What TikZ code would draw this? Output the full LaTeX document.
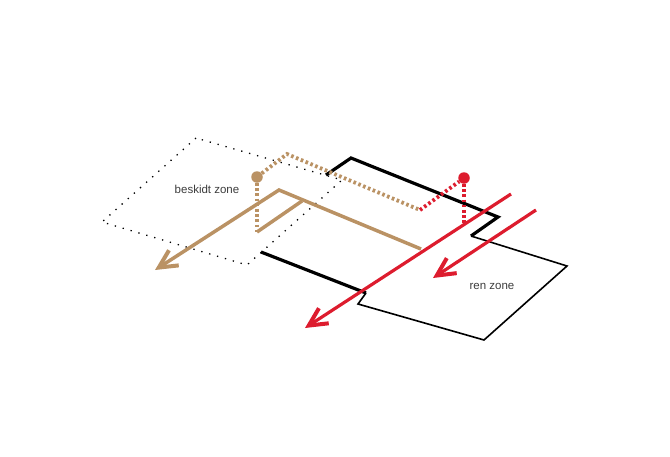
\documentclass[tikz,border=0pt]{standalone}
\usepackage{fontspec}
\setmainfont{Liberation Sans}
\usetikzlibrary{arrows.meta}
\definecolor{zonetan}{RGB}{186,146,100}
\definecolor{zonered}{RGB}{221,28,46}
\definecolor{labelgray}{RGB}{60,60,60}

\begin{document}
\begin{tikzpicture}[x=1pt, y=-1pt,
    wall/.style={black, line width=3.2pt, line join=miter},
    thinwall/.style={black, line width=1.6pt, line join=miter},
    outline/.style={black, line width=1.3pt, dash pattern=on 1.3pt off 6.9pt},
    tanpath/.style={zonetan, line width=3.5pt, line join=miter},
    redpath/.style={zonered, line width=3.2pt},
    tandots/.style={zonetan, line width=3.8pt, dash pattern=on 2.6pt off 2.6pt},
    reddots/.style={zonered, line width=3.8pt, dash pattern=on 2.6pt off 2.6pt},
    arr/.style={-{Straight Barb[length=18pt, width=18pt, line width=4pt]}},
    lab/.style={font=\fontsize{11.5}{13}\selectfont, text=labelgray, inner sep=0pt},
    dot/.style={circle, minimum size=11.5pt, inner sep=0pt}
]
    \useasboundingbox (0,0) rectangle (670,456);

    % Dirty zone outline
    \draw[outline] (196,138) -- (102,222) -- (247,265) -- (342,180) -- cycle;

    % Clean zone walls
    \draw[wall] (326,175) -- (351,158) -- (498,217) -- (471,236);
    \draw[thinwall] (471,236) -- (567,266) -- (484,340) -- (358,304) -- (366,293);
    \draw[wall] (366,293) -- (261,252);

    % Dots
    \node[dot, fill=zonetan] (tandot) at (257,177) {};
    \node[dot, fill=zonered] (reddot) at (464,178) {};
    \coordinate (tanfoot) at (257,232);
    \coordinate (redfoot) at (464,225);
    \coordinate (bend) at (420,210);

    % Tan route
    \draw[tanpath, arr] (421,249) -- (279,190) -- (155,270);
    \draw[tanpath] (302,201) -- (tanfoot);
    \draw[tandots] (tandot) -- (tanfoot);
    \draw[tandots] (tandot) -- (287,154) -- (bend);

    % Red route
    \draw[reddots] (bend) -- (reddot);
    \draw[reddots] (reddot) -- (redfoot);
    \draw[redpath, arr] (511,194) -- (305,328);
    \draw[redpath, arr] (536,210) -- (433,278);

    % Zone labels
    \node[lab] (dirty) at (207,189) {beskidt zone};
    \node[lab] (clean) at (492,286) {ren zone};
\end{tikzpicture}
\end{document}
